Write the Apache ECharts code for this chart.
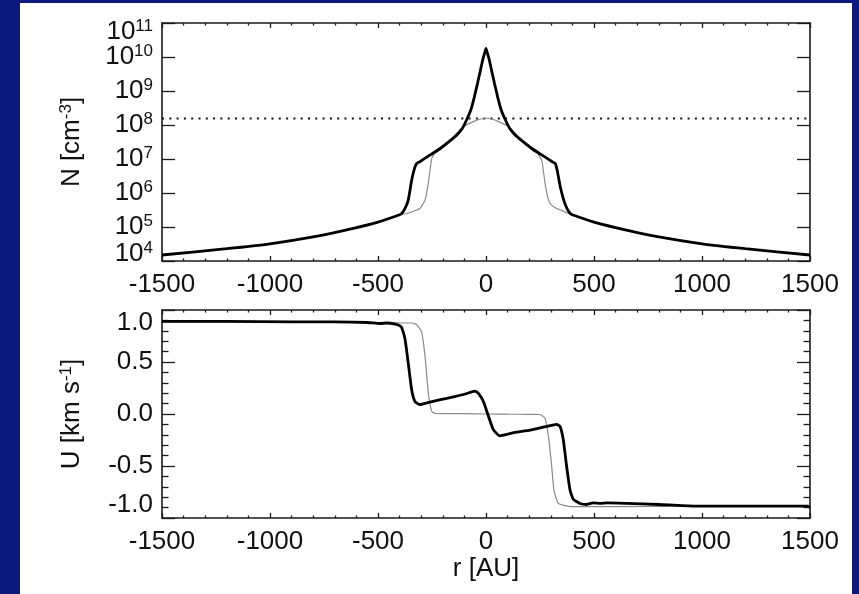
<!DOCTYPE html>
<html><head><meta charset="utf-8">
<script src="https://cdn.jsdelivr.net/npm/echarts@6/dist/echarts.min.js"></script>
<style>html,body{margin:0;padding:0;background:#0b1a7c}#c{width:859px;height:594px}</style>
</head><body><div id="c"></div><script>
// ---- data ----
const xTickValues = [-1500, -1000, -500, 0, 500, 1000, 1500];
const nExponents = [4, 5, 6, 7, 8, 9, 10, 11];   // log-axis tick labels 10^4 ... 10^11
const nLevelLine = 1.55e8; // dotted horizontal reference level

const rThickN = [-1500,-1200,-1000,-800,-650,-500,-400,-390,-375,-360,-344,-330,-321,-306,-260,-213,-167,-136,-110,-90,-70,-55,-40,-28,-15,-5,
  0, 5,15,28,40,55,70,90,110,136,167,213,260,306,321,330,344,360,375,390,400,500,650,800,1000,1200,1500];
const nThick = [1.5e4,2.3e4,3.2e4,5.1e4,8.1e4,1.4e5,2.3e5,2.5e5,3.5e5,6.2e5,2.4e6,5.6e6,7.4e6,8.3e6,1.3e7,2.0e7,3.4e7,5.0e7,7.9e7,1.4e8,2.8e8,6.3e8,1.6e9,3.5e9,8.3e9,1.4e10,
  1.8e10, 1.4e10,8.3e9,3.5e9,1.6e9,6.3e8,2.8e8,1.4e8,7.9e7,5.0e7,3.4e7,2.0e7,1.3e7,8.3e6,7.4e6,4.5e6,1.5e6,6.2e5,3.5e5,2.5e5,2.3e5,1.4e5,8.1e4,5.1e4,3.2e4,2.3e4,1.5e4];

const rThinN = [-1500,-1200,-1000,-800,-650,-500,-400,-367,-330,-306,-290,-282,-267,-251,-228,-200,-167,-135,-105,-59,-30,
  0, 30,59,105,135,167,200,228,258,273,285,296,320,343,403,500,650,800,1000,1200,1500];
const nThin = [1.5e4,2.3e4,3.2e4,5.1e4,8.1e4,1.4e5,2.3e5,2.5e5,3.0e5,3.5e5,5.0e5,6.2e5,1.95e6,1.05e7,1.8e7,2.5e7,3.6e7,5.8e7,8.9e7,1.26e8,1.48e8,
  1.58e8, 1.48e8,1.26e8,8.9e7,5.8e7,3.6e7,2.5e7,1.8e7,9.3e6,1.95e6,8.0e5,5.0e5,3.7e5,3.2e5,2.2e5,1.4e5,8.1e4,5.1e4,3.2e4,2.3e4,1.5e4];

const rThickU = [-1500,-1200,-900,-700,-550,-491,-460,-420,-400,-390,-375,-360,-344,-329,-306,-250,-182,-100,-51,-36,-12,11,34,63,130,204,280,327,343,358,373,389,404,435,466,496,530,560,651,800,960,1490,1500];
const uThick = [0.89,0.89,0.885,0.885,0.88,0.87,0.875,0.865,0.85,0.83,0.72,0.49,0.23,0.12,0.09,0.12,0.15,0.19,0.22,0.20,0.12,-0.02,-0.15,-0.21,-0.18,-0.155,-0.12,-0.10,-0.12,-0.25,-0.50,-0.73,-0.82,-0.86,-0.87,-0.855,-0.86,-0.855,-0.86,-0.87,-0.885,-0.885,-0.90];

const rThinU = [-1500,-1000,-500,-400,-340,-321,-298,-282,-267,-251,-236,-100,0,100,200,250,273,289,304,315,335,389,600,1000,1500];
const uThin = [0.885,0.885,0.88,0.875,0.875,0.86,0.79,0.55,0.20,0.025,0.005,0.003,0.0,-0.002,-0.003,-0.005,-0.04,-0.21,-0.50,-0.74,-0.86,-0.89,-0.89,-0.885,-0.885];

// ---- chart ----
const FONT = '"Liberation Sans", Arial, Helvetica, sans-serif';
const INK = '#111';
const pair = (xs, ys) => xs.map((x, i) => [x, ys[i]]);
const lineSt = {color: '#1a1a1a', width: 1.6};
const tickSt = {color: '#1a1a1a', width: 1.3};
const eMin = nExponents[0], eMax = nExponents[nExponents.length - 1];

function xAxis(grid, pos, showLabels, name) {
  return {
    type: 'value', gridIndex: grid, position: pos,
    min: xTickValues[0], max: xTickValues[xTickValues.length - 1], interval: 500,
    axisLine: {show: true, onZero: false, lineStyle: lineSt},
    axisTick: {show: true, inside: true, length: 5, lineStyle: tickSt},
    minorTick: {show: true, splitNumber: 5, length: 2.5, lineStyle: tickSt},
    splitLine: {show: false}, minorSplitLine: {show: false},
    axisLabel: {show: showLabels, margin: 11, color: INK, fontSize: 26, fontFamily: FONT,
      interval: 0, hideOverlap: false, showMinLabel: true, showMaxLabel: true, formatter: v => String(v)},
    name: name || '', nameLocation: 'middle', nameGap: 38,
    nameTextStyle: {color: INK, fontSize: 26, fontFamily: FONT}
  };
}
const supRich = {
  b: {fontSize: 26, fontFamily: FONT, color: INK, lineHeight: 28},
  s: {fontSize: 17, fontFamily: FONT, color: INK, lineHeight: 17, verticalAlign: 'top'}
};
const expOf = v => Math.round(Math.log10(v));
const powLabel = e => '{b|10}{s|' + e + '}';
// mode: 'main' (inner labels + name), 'max' / 'min' (only that end label), 'mirror' (ticks only)
function yLog(pos, mode) {
  const isMain = mode === 'main', isMax = mode === 'max', isMin = mode === 'min';
  const isEnd = isMax || isMin;
  return {
    type: 'log', logBase: 10, gridIndex: 0, position: pos,
    min: Math.pow(10, eMin), max: Math.pow(10, eMax), splitNumber: eMax - eMin,
    axisLine: {show: !isEnd, onZero: false, lineStyle: lineSt},
    axisTick: {show: !isEnd, inside: true, length: 13, lineStyle: tickSt},
    minorTick: {show: false}, splitLine: {show: false},
    axisLabel: {show: isMain || isEnd, margin: 9, interval: 0, hideOverlap: false,
      showMinLabel: true, showMaxLabel: true,
      padding: isMax ? [17, 0, 0, 0] : isMin ? [0, 0, 15, 0] : 0,
      formatter: v => {
        const e = expOf(v);
        if (isMax) return e === eMax ? powLabel(e) : '';
        if (isMin) return e === eMin ? powLabel(e) : '';
        return (e === eMin || e === eMax) ? '' : powLabel(e);
      },
      rich: supRich},
    name: isMain ? '{b|N [cm}{s|-3}{b|]}' : '', nameLocation: 'middle', nameGap: 76, nameRotate: 90,
    nameTextStyle: {rich: supRich}
  };
}
function yLin(pos, showLabels) {
  return {
    type: 'value', gridIndex: 1, position: pos, min: -1, max: 1, interval: 0.5,
    axisLine: {show: true, onZero: false, lineStyle: lineSt},
    axisTick: {show: true, inside: true, length: 13, lineStyle: tickSt},
    minorTick: {show: true, splitNumber: 5, length: 6.5, lineStyle: tickSt},
    splitLine: {show: false}, minorSplitLine: {show: false},
    axisLabel: {show: showLabels, margin: 9, color: INK, fontSize: 26, fontFamily: FONT,
      interval: 0, hideOverlap: false, showMinLabel: true, showMaxLabel: true,
      verticalAlignMinLabel: 'bottom', verticalAlignMaxLabel: 'top', formatter: v => v.toFixed(1)},
    name: showLabels ? '{b|U [km s}{s|-1}{b|]}' : '', nameLocation: 'middle', nameGap: 76, nameRotate: 90,
    nameTextStyle: {rich: supRich}
  };
}

const chart = echarts.init(document.getElementById('c'));
chart.setOption({
  backgroundColor: '#0b1a7c',
  animation: false,
  graphic: [{type: 'rect', z: -10, silent: true, shape: {x: 20, y: 3, width: 832, height: 591}, style: {fill: '#ffffff'}}],
  grid: [
    {left: 162, top: 23, width: 648, height: 238},
    {left: 162, top: 310, width: 648, height: 208}
  ],
  xAxis: [xAxis(0, 'bottom', true), xAxis(0, 'top', false), xAxis(1, 'bottom', true, 'r [AU]'), xAxis(1, 'top', false)],
  yAxis: [yLog('left', 'main'), yLog('right', 'mirror'), yLin('left', true), yLin('right', false),
          yLog('left', 'max'), yLog('left', 'min')],
  series: [
    {type: 'line', xAxisIndex: 0, yAxisIndex: 0, symbol: 'none', silent: true,
     data: [[xTickValues[0], nLevelLine], [xTickValues[xTickValues.length - 1], nLevelLine]],
     lineStyle: {color: '#111', width: 2, type: [2, 5.3]}},
    {type: 'line', xAxisIndex: 0, yAxisIndex: 0, symbol: 'none', smooth: 0.15,
     data: pair(rThinN, nThin), lineStyle: {color: '#8a8a8a', width: 1.2}},
    {type: 'line', xAxisIndex: 0, yAxisIndex: 0, symbol: 'none', smooth: 0.15,
     data: pair(rThickN, nThick), lineStyle: {color: '#000', width: 2.8}},
    {type: 'line', xAxisIndex: 2, yAxisIndex: 2, symbol: 'none', smooth: 0.15,
     data: pair(rThinU, uThin), lineStyle: {color: '#8a8a8a', width: 1.2}},
    {type: 'line', xAxisIndex: 2, yAxisIndex: 2, symbol: 'none', smooth: 0.15,
     data: pair(rThickU, uThick), lineStyle: {color: '#000', width: 2.8}}
  ]
});
</script></body></html>
